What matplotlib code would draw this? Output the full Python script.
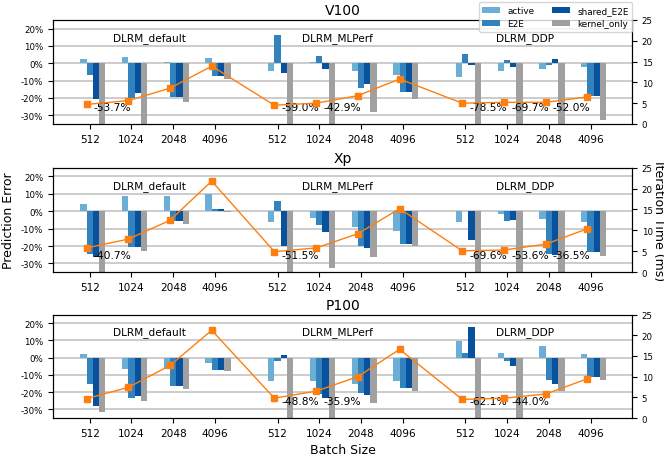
import numpy as np
import matplotlib
matplotlib.use("Agg")
import matplotlib.pyplot as plt
from matplotlib.ticker import FuncFormatter

# categories
GPUS = ["V100", "Xp", "P100"]
MODELS = ["DLRM_default", "DLRM_MLPerf", "DLRM_DDP"]
BATCH_SIZES = ["512", "1024", "2048", "4096"]
SERIES = ["active", "E2E", "shared_E2E", "kernel_only"]

# prediction error (%), 12 entries = 3 models x 4 batch sizes
V100_ACTIVE = [2.5, 3.7, 0.6, 3.1, -4.3, 0.6, -4.3, -6.6, -7.8, -4.3, -3.1, -1.9]
V100_E2E = [-6.6, -20.3, -19.6, -7.2, 16.5, 4.3, -14.2, -16.5, 5.4, 1.9, -0.8, -18.6]
V100_SHARED = [-20.6, -17.3, -19.6, -7.2, -5.4, -3.1, -11.8, -16.5, -0.8, -1.9, 2.3, -18.6]
V100_KERNEL = [-53.7, -45.0, -22.3, -8.9, -59.0, -42.9, -28.2, -20.6, -78.5, -69.7, -52.0, -32.8]
V100_TIME = [4.7, 5.6, 8.6, 13.9, 4.5, 5.0, 6.8, 10.8, 5.0, 5.2, 5.2, 6.5]

XP_ACTIVE = [4.1, 8.7, 8.7, 9.9, -6.2, -3.9, -9.3, -11.4, -6.2, -1.5, -4.3, -6.0]
XP_E2E = [-24.8, -20.7, -5.8, 1.2, 5.8, -8.1, -19.7, -18.6, 0.0, -5.6, -24.4, -23.6]
XP_SHARED = [-26.5, -20.3, -5.8, 1.2, -19.7, -12.0, -21.3, -18.6, -16.6, -5.0, -25.1, -23.6]
XP_KERNEL = [-40.7, -23.0, -7.5, -0.2, -51.5, -32.9, -26.5, -20.1, -69.6, -53.6, -36.5, -25.5]
XP_TIME = [5.8, 7.9, 12.4, 21.8, 4.9, 5.8, 9.2, 15.2, 5.1, 5.3, 6.7, 10.4]

P100_ACTIVE = [1.9, -6.8, -6.8, -3.3, -13.8, -13.8, -15.3, -13.8, 9.9, 2.5, 6.6, 1.9]
P100_E2E = [-15.0, -23.1, -16.5, -7.2, -1.9, -20.8, -20.4, -17.3, 2.9, -1.9, -13.2, -11.1]
P100_SHARED = [-28.2, -22.3, -16.5, -7.2, 1.4, -23.1, -21.7, -17.3, 17.9, -4.9, -15.0, -11.1]
P100_KERNEL = [-31.7, -25.2, -18.4, -8.0, -48.8, -35.9, -26.4, -19.6, -62.1, -44.0, -19.4, -13.0]
P100_TIME = [4.7, 7.4, 12.7, 21.2, 4.8, 6.5, 10.0, 16.6, 4.5, 4.8, 5.8, 9.5]

ERRORS = {
    "V100": [V100_ACTIVE, V100_E2E, V100_SHARED, V100_KERNEL],
    "Xp": [XP_ACTIVE, XP_E2E, XP_SHARED, XP_KERNEL],
    "P100": [P100_ACTIVE, P100_E2E, P100_SHARED, P100_KERNEL],
}
TIMES = {"V100": V100_TIME, "Xp": XP_TIME, "P100": P100_TIME}
# clipped kernel_only bars that carry no value label in the original
UNLABELLED = {("V100", 1)}

COLORS = ["#6baed6", "#3182bd", "#08519c", "#a0a0a0"]
LINE_COLOR = "#ff7f0e"
YMIN, YMAX = -35, 25

fig = plt.figure(figsize=(6.64, 4.56), dpi=100)
rects = [
    [0.080, 0.726, 0.872, 0.228],
    [0.080, 0.401, 0.872, 0.229],
    [0.080, 0.081, 0.872, 0.227],
]

w = 0.15
pos = np.array([g * 4.5 + i for g in range(len(MODELS)) for i in range(len(BATCH_SIZES))])

for k, gpu in enumerate(GPUS):
    ax = fig.add_axes(rects[k])
    ax2 = ax.twinx()
    bars = []
    for i, (name, vals) in enumerate(zip(SERIES, ERRORS[gpu])):
        b = ax.bar(pos + (i - 0.5) * w, vals, width=w, color=COLORS[i], label=name)
        bars.append(b)

    # labels for kernel_only bars that fall below the axis
    for j, v in enumerate(ERRORS[gpu][3]):
        if v < YMIN and (gpu, j) not in UNLABELLED:
            ax.text(pos[j] + 0.17, -25, f"{v:.1f}%", ha="left", va="center", fontsize=7.7)

    for g, model in enumerate(MODELS):
        ax.text(g * 4.5 + 1.5, 15, model, ha="center", va="center", fontsize=7.6)

    ax.set_ylim(YMIN, YMAX)
    ax.set_xlim(-0.8, 13.07)
    ax.set_yticks([-30, -20, -10, 0, 10, 20])
    ax.yaxis.set_major_formatter(FuncFormatter(lambda y, _: f"{y:.0f}%"))
    ax.set_xticks(pos + w / 2)
    ax.set_xticklabels(BATCH_SIZES * len(MODELS))
    ax.tick_params(axis="y", labelsize=6.2)
    ax.tick_params(axis="x", labelsize=7.6)
    ax.yaxis.grid(True, color="#c8c8c8", linewidth=1.3)
    ax.set_axisbelow(True)
    ax.set_title(gpu, fontsize=10, pad=4)

    ax2.plot(pos, TIMES[gpu], color=LINE_COLOR, marker="s", markersize=5, linewidth=1)
    ax2.set_ylim(0, 25)
    ax2.set_yticks([0, 5, 10, 15, 20, 25])
    ax2.tick_params(axis="y", labelsize=6.2)

    if k == 0:
        leg = ax2.legend(bars, SERIES, ncol=2, fontsize=6.4, loc="upper right",
                         bbox_to_anchor=(1.0, 1.17), borderaxespad=0)
    if k == 1:
        ax.set_ylabel("Prediction Error", fontsize=9)
        ax2.set_ylabel("Iteration Time (ms)", fontsize=9, rotation=270, labelpad=9)
    if k == 2:
        ax.set_xlabel("Batch Size", fontsize=9)

fig.savefig("out.png", dpi=100)
